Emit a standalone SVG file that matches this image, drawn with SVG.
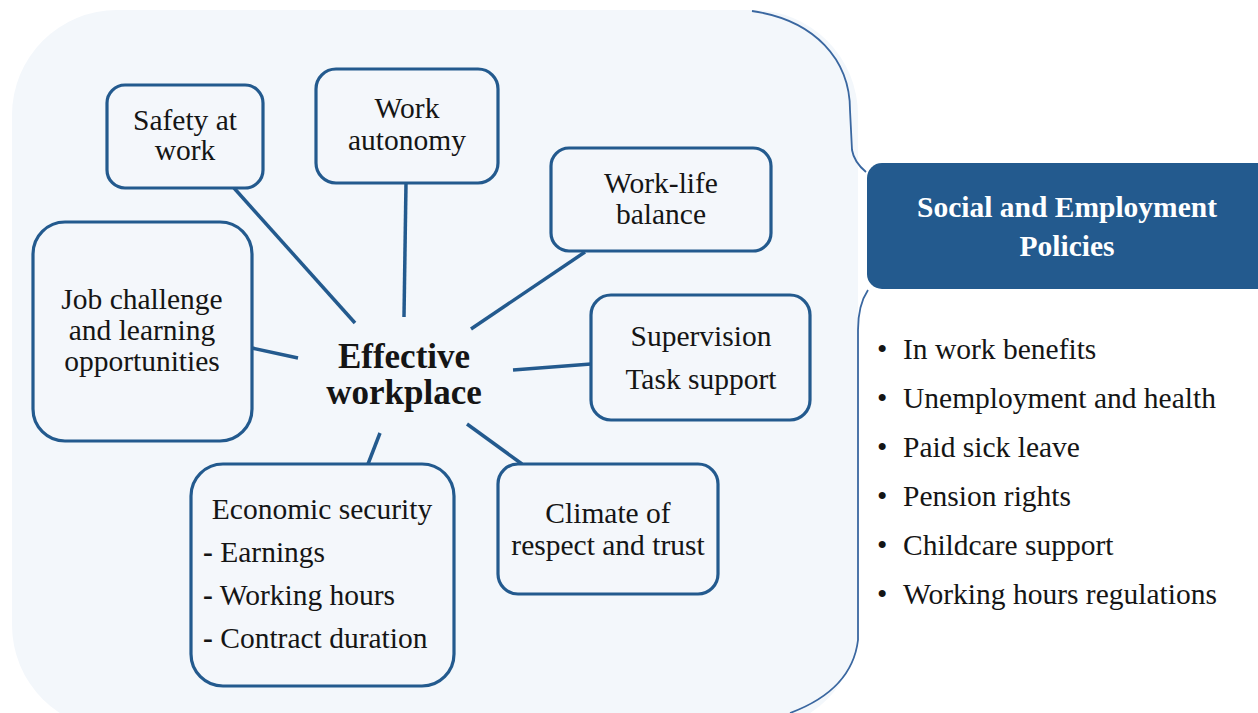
<svg xmlns="http://www.w3.org/2000/svg" width="1258" height="713" viewBox="0 0 1258 713">
<style>
.box{fill:#f4f7fb;stroke:#235a8e;stroke-width:3.2}
.t{font-family:"Liberation Serif","Times New Roman",serif;font-size:29.5px;fill:#151515}
.c{text-anchor:middle}
.b{font-weight:bold}
.conn line{stroke:#235a8e;stroke-width:3.5;stroke-linecap:butt}
.edge{fill:none;stroke:#3a67a0;stroke-width:1.8}
</style>
<rect width="1258" height="713" fill="#ffffff"/>
<g id="background">
<rect x="12" y="10" width="846" height="720" rx="105" fill="#f3f7fb"/>
<path class="edge" d="M 752 11 C 815 20 850 60 850 110 L 852 150 Q 854 162 866 172"/>
<path class="edge" d="M 868 290 Q 858 305 858 330 L 858 640 Q 852 690 790 713"/>
</g>
<g class="conn" id="connectors">
<line x1="234" y1="188" x2="355" y2="323"/>
<line x1="406" y1="183" x2="404" y2="317"/>
<line x1="585" y1="252" x2="471" y2="329"/>
<line x1="252" y1="348" x2="298" y2="358"/>
<line x1="591" y1="364" x2="513" y2="370"/>
<line x1="380" y1="433" x2="368" y2="464"/>
<line x1="467" y1="424" x2="522" y2="464"/>
</g>
<g id="safety">
<rect class="box" x="107" y="85" width="156" height="103" rx="18"/>
<text class="t c" x="185" y="130">Safety at</text>
<text class="t c" x="185" y="160">work</text>
</g>
<g id="autonomy">
<rect class="box" x="316" y="69" width="182" height="114" rx="20"/>
<text class="t c" x="407" y="118">Work</text>
<text class="t c" x="407" y="150">autonomy</text>
</g>
<g id="worklife">
<rect class="box" x="551" y="148" width="220" height="103" rx="18"/>
<text class="t c" x="661" y="193">Work-life</text>
<text class="t c" x="661" y="224">balance</text>
</g>
<g id="jobchallenge">
<rect class="box" x="33" y="222" width="219" height="219" rx="32"/>
<text class="t c" x="142" y="309">Job challenge</text>
<text class="t c" x="142" y="340">and learning</text>
<text class="t c" x="142" y="371">opportunities</text>
</g>
<g id="supervision">
<rect class="box" x="591" y="295" width="219" height="125" rx="20"/>
<text class="t c" x="701" y="346">Supervision</text>
<text class="t c" x="701" y="389">Task support</text>
</g>
<g id="economic">
<rect class="box" x="191" y="464" width="263" height="222" rx="32"/>
<text class="t c" x="322" y="519">Economic security</text>
<text class="t" x="203" y="562"><tspan font-weight="bold">-</tspan> Earnings</text>
<text class="t" x="203" y="605"><tspan font-weight="bold">-</tspan> Working hours</text>
<text class="t" x="203" y="648"><tspan font-weight="bold">-</tspan> Contract duration</text>
</g>
<g id="climate">
<rect class="box" x="498" y="464" width="220" height="130" rx="20"/>
<text class="t c" x="608" y="523">Climate of</text>
<text class="t c" x="608" y="555">respect and trust</text>
</g>
<g id="effective">
<text class="t c b" x="404" y="368" style="font-size:35px">Effective</text>
<text class="t c b" x="404" y="404" style="font-size:35px">workplace</text>
</g>
<g id="policies">
<rect x="867" y="163" width="405" height="126" rx="15" fill="#235a8e"/>
<text class="t c b" x="1067" y="217" style="fill:#ffffff">Social and Employment</text>
<text class="t c b" x="1067" y="256" style="fill:#ffffff">Policies</text>
</g>
<g id="policy-list">
<text class="t" x="877" y="359">•</text><text class="t" x="903" y="359">In work benefits</text>
<text class="t" x="877" y="408">•</text><text class="t" x="903" y="408">Unemployment and health</text>
<text class="t" x="877" y="457">•</text><text class="t" x="903" y="457">Paid sick leave</text>
<text class="t" x="877" y="506">•</text><text class="t" x="903" y="506">Pension rights</text>
<text class="t" x="877" y="555">•</text><text class="t" x="903" y="555">Childcare support</text>
<text class="t" x="877" y="604">•</text><text class="t" x="903" y="604">Working hours regulations</text>
</g>
</svg>
